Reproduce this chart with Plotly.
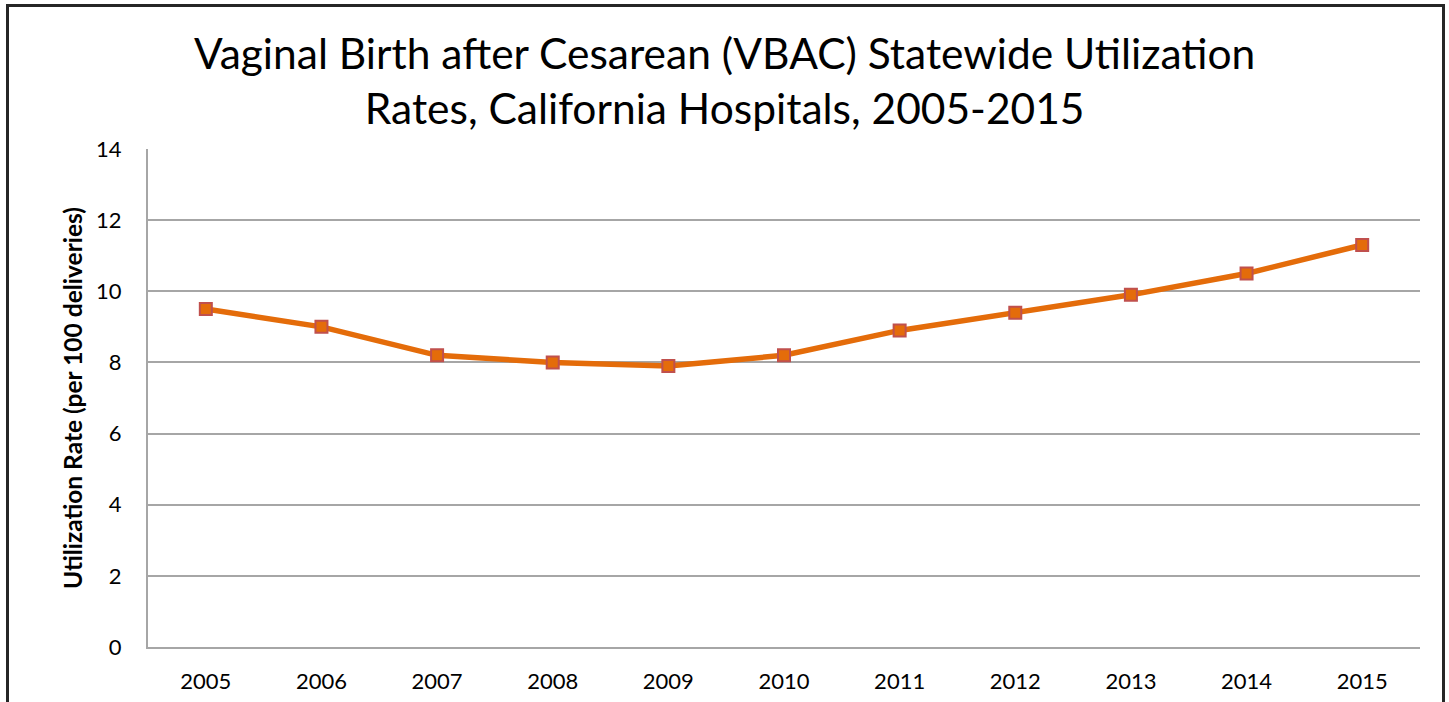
import plotly.graph_objects as go

years = ["2005", "2006", "2007", "2008", "2009", "2010", "2011", "2012", "2013", "2014", "2015"]
rates = [9.5, 9.0, 8.2, 8.0, 7.9, 8.2, 8.9, 9.4, 9.9, 10.5, 11.3]
y_ticks = [0, 2, 4, 6, 8, 10, 12, 14]

title_text = "Vaginal Birth after Cesarean (VBAC) Statewide Utilization<br>Rates, California Hospitals, 2005-2015"
y_title = "Utilization Rate (per 100 deliveries)"

W, H = 1449, 702
pl, pr, pt, pb = 148, 29, 149, 55
pw, ph = W - pl - pr, H - pt - pb
def px_x(x):
    return (x - pl) / pw
def px_y(y):
    return (H - pb - y) / ph

FONT = "Lato, Open Sans, sans-serif"

fig = go.Figure()
fig.add_trace(go.Scatter(
    x=years, y=rates, mode="lines+markers",
    line=dict(color="#E46C0A", width=5.5),
    marker=dict(symbol="square", size=12, color="#E46C0A",
                line=dict(color="#C0504D", width=2)),
    showlegend=False,
))

fig.update_layout(
    width=W, height=H,
    margin=dict(l=pl, r=pr, t=pt, b=pb, autoexpand=False),
    paper_bgcolor="white", plot_bgcolor="white",
    font=dict(family=FONT, color="black"),
    xaxis=dict(type="category", range=[-0.5, 10.5], showgrid=False, automargin=False,
               showline=True, linecolor="#A6A6A6", linewidth=2,
               tickfont=dict(size=22), ticks="outside", ticklen=14, tickcolor="rgba(0,0,0,0)"),
    yaxis=dict(range=[0, 14], tickvals=y_ticks, showgrid=True, gridcolor="#A6A6A6", gridwidth=2,
               showline=True, linecolor="#A6A6A6", linewidth=2, zeroline=False, automargin=False,
               tickfont=dict(size=22), ticks="outside", ticklen=20, tickcolor="rgba(0,0,0,0)",
               title=dict(text="<b>" + y_title + "</b>", font=dict(size=24.5), standoff=6)),
)

fig.add_annotation(text=title_text, xref="paper", yref="paper", x=px_x(724.5), y=px_y(80),
                   xanchor="center", yanchor="middle", showarrow=False,
                   font=dict(size=42.5, family=FONT, color="black"))

# outer chart border
fig.add_shape(type="line", xref="paper", yref="paper", x0=px_x(7.5), x1=px_x(7.5), y0=px_y(4), y1=px_y(702),
              line=dict(color="#262626", width=3))
fig.add_shape(type="line", xref="paper", yref="paper", x0=px_x(6), x1=px_x(1445), y0=px_y(5.5), y1=px_y(5.5),
              line=dict(color="#262626", width=3))
fig.add_shape(type="line", xref="paper", yref="paper", x0=px_x(1443.5), x1=px_x(1443.5), y0=px_y(4), y1=px_y(702),
              line=dict(color="#262626", width=3))

fig.write_html("out.html", config={"displayModeBar": False},
               post_script="document.body.style.margin='0';document.body.style.overflow='hidden';")
